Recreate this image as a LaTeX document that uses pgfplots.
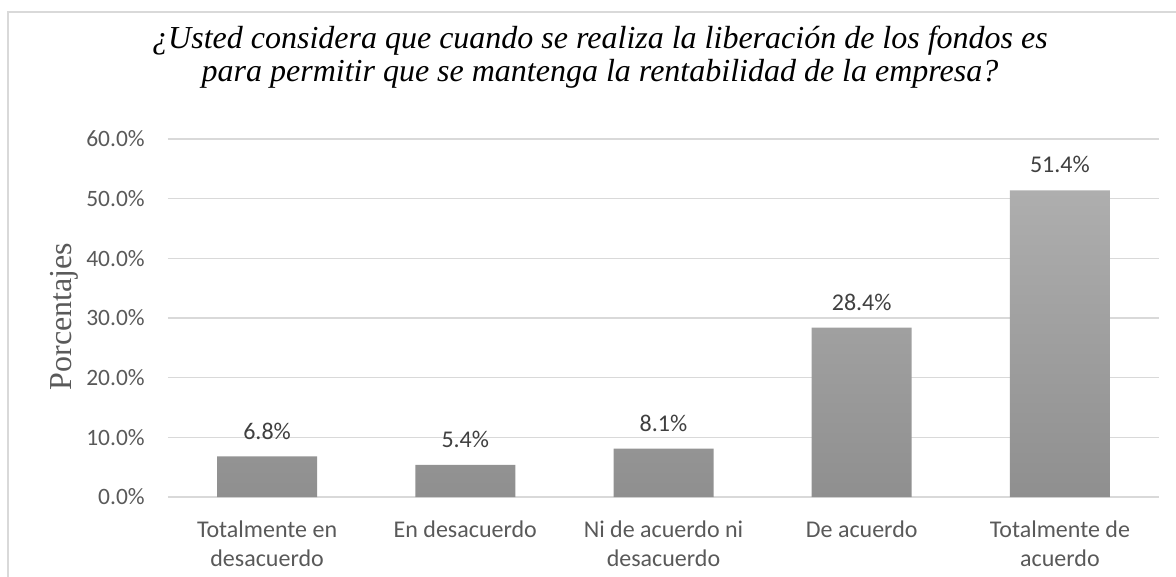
\documentclass[border=0pt]{standalone}
\usepackage{fontspec}
\setmainfont{Liberation Serif}
\newfontfamily\calibri{Carlito}
\usepackage{pgfplots}
\pgfplotsset{compat=1.18}
\definecolor{gridc}{HTML}{D9D9D9}
\definecolor{tickc}{HTML}{595959}
\definecolor{labc}{HTML}{404040}
\definecolor{bartop}{HTML}{AEAEAE}
\definecolor{barbot}{HTML}{8F8F8F}
\begin{document}
\begin{tikzpicture}[x=1pt,y=1pt]
\useasboundingbox (-126,-60) rectangle (756,372.75);
\draw[gridc, line width=1.1pt] (-120,-61) -- (-120,363.75) -- (757,363.75);
\begin{axis}[at={(0,0)}, anchor=south west, scale only axis,
  width=743.25pt, height=268.5pt,
  xmin=-0.5, xmax=4.5, ymin=0, ymax=60,
  ybar, bar width=75pt,
  /pgf/number format/assume math mode=true,
  xtick={0,1,2,3,4},
  xticklabels={Totalmente en\\desacuerdo, En desacuerdo, Ni de acuerdo ni\\desacuerdo, De acuerdo, Totalmente de\\acuerdo},
  ytick={0,10,20,30,40,50,60},
  yticklabels={0.0\%,10.0\%,20.0\%,30.0\%,40.0\%,50.0\%,60.0\%},
  major tick length=0pt,
  axis line style={draw=none},
  ymajorgrids, grid style={gridc, line width=1.1pt},
  ticklabel style={font=\calibri\fontsize{17.6}{21.3}\selectfont, text=tickc},
  xticklabel style={font=\calibri\fontsize{18}{21.3}\selectfont, align=center, anchor=north, inner sep=0pt, yshift=-17.8pt},
  yticklabel style={anchor=east, inner sep=0pt, xshift=-17.25pt},
  ylabel={Porcentajes},
  ylabel style={at={(axis description cs:-0.1045,0.504)}, anchor=center,
    font=\fontsize{24}{28}\selectfont, text=tickc},
  nodes near coords={\pgfmathprintnumber[fixed,fixed zerofill,precision=1]{\pgfplotspointmeta}\%},
  every node near coord/.append style={anchor=base, yshift=13pt, inner sep=0pt,
    font=\calibri\fontsize{18}{21}\selectfont, text=labc},
]
\addplot[draw=none, top color=bartop, bottom color=barbot]
  coordinates {(0,6.8) (1,5.4) (2,8.1) (3,28.4) (4,51.4)};
\end{axis}
\node[anchor=base, font=\itshape\fontsize{24}{28}\selectfont] at (324,336.4)
  {¿Usted considera que cuando se realiza la liberación de los fondos es};
\node[anchor=base, font=\itshape\fontsize{24}{28}\selectfont] at (324,311.5)
  {para permitir que se mantenga la rentabilidad de la empresa?};
\end{tikzpicture}
\end{document}
